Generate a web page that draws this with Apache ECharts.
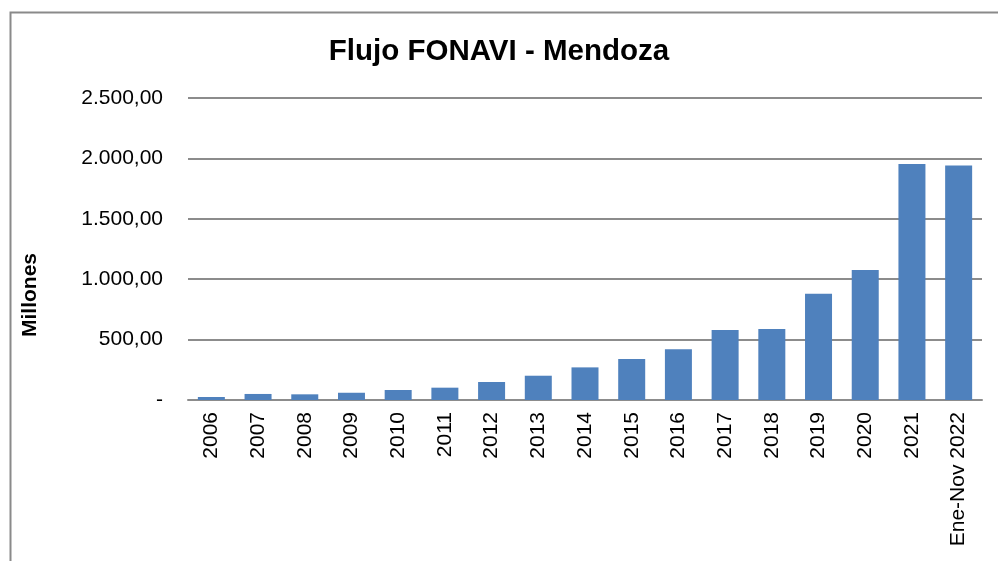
<!DOCTYPE html>
<html>
<head>
<meta charset="utf-8">
<script src="https://cdn.jsdelivr.net/npm/echarts@6/dist/echarts.min.js"></script>
<style>
html,body{margin:0;padding:0;background:#fff;}
#chart{width:998px;height:561px;}
</style>
</head>
<body>
<div id="chart"></div>
<script>
// datos
var anios = ['2006','2007','2008','2009','2010','2011','2012','2013','2014','2015','2016','2017','2018','2019','2020','2021','Ene-Nov 2022'];
var flujo = [25, 50, 47, 60, 83, 102, 149, 201, 270, 340, 420, 580, 588, 879, 1077, 1953, 1942];
var ticksY = [0, 500, 1000, 1500, 2000, 2500];

function fmtNum(v) {
	if (v == 0) return '-';
	var s = String(Math.round(v));
	s = s.replace(/\B(?=(\d{3})+(?!\d))/g, '.');
	return s + ',00';
}

var chart = echarts.init(document.getElementById('chart'));
chart.setOption({
	animation: false,
	title: {
		text: 'Flujo FONAVI - Mendoza',
		left: 'center',
		top: 32,
		textStyle: {fontFamily: 'Liberation Sans', fontSize: 29.5, fontWeight: 'bold', color: '#000'}
	},
	grid: {left: 188, right: 16, top: 98, bottom: 161},
	xAxis: {
		type: 'category',
		data: anios,
		axisTick: {show: false},
		axisLine: {lineStyle: {color: '#8c8c8c', width: 2}},
		axisLabel: {rotate: 90, margin: 12, color: '#000', fontFamily: 'Liberation Sans', fontSize: 21, interval: 0}
	},
	yAxis: {
		type: 'value',
		min: ticksY[0],
		max: ticksY[ticksY.length - 1],
		interval: 500,
		axisLine: {show: false},
		axisTick: {show: false},
		splitLine: {lineStyle: {color: '#8c8c8c', width: 2}},
		axisLabel: {margin: 25, color: '#000', fontFamily: 'Liberation Sans', fontSize: 21, formatter: fmtNum}
	},
	series: [{
		type: 'bar',
		data: flujo,
		barWidth: 27,
		itemStyle: {color: '#4f81bd'}
	}],
	graphic: [
		{
			type: 'rect',
			left: 8, top: 10,
			shape: {width: 1000, height: 600},
			style: {fill: 'none', stroke: '#8a8a8a', lineWidth: 2},
			silent: true
		},
		{
			type: 'text',
			x: 30, y: 295,
			rotation: Math.PI / 2,
			style: {text: 'Millones', fontFamily: 'Liberation Sans', fontSize: 21, fontWeight: 'bold', fill: '#000', align: 'center', verticalAlign: 'middle'}
		}
	]
});
</script>
</body>
</html>
